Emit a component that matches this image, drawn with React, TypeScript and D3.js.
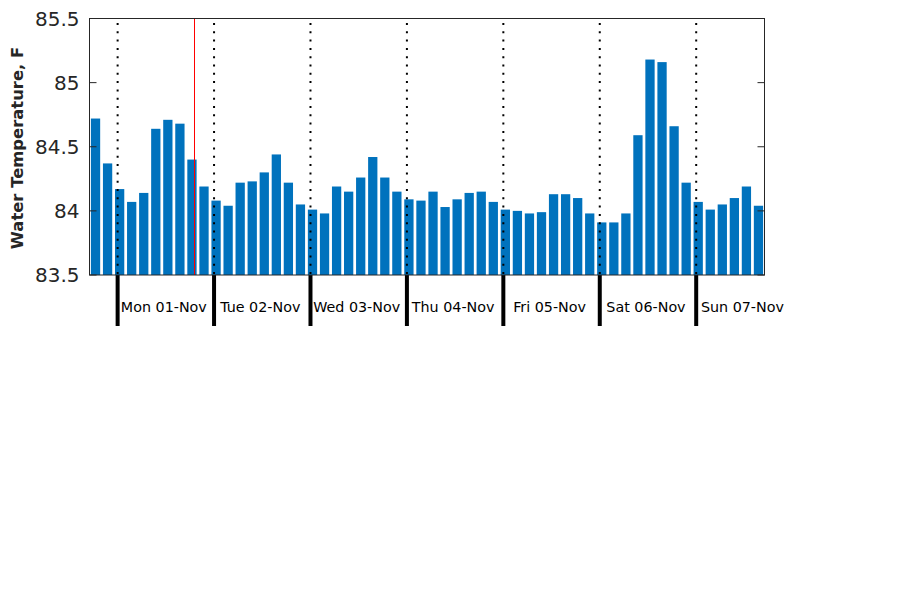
import { useEffect, useRef } from "react";
import * as d3 from "d3";

// 3-hourly water temperature readings (F), first reading Sun 31-Oct 18:30
const temps = [
  84.72, 84.37, 84.17, 84.07, 84.14, 84.64, 84.71, 84.68,
  84.40, 84.19, 84.08, 84.04, 84.22, 84.23, 84.30, 84.44,
  84.22, 84.05, 84.01, 83.98, 84.19, 84.15, 84.26, 84.42,
  84.26, 84.15, 84.09, 84.08, 84.15, 84.03, 84.09, 84.14,
  84.15, 84.07, 84.01, 84.00, 83.98, 83.99, 84.13, 84.13,
  84.10, 83.98, 83.91, 83.91, 83.98, 84.59, 85.18, 85.16,
  84.66, 84.22, 84.07, 84.01, 84.05, 84.10, 84.19, 84.04,
];
const firstReading = new Date(2021, 9, 31, 18, 30);
const stepHours = 3;
const dayLabels = ["Mon 01-Nov", "Tue 02-Nov", "Wed 03-Nov", "Thu 04-Nov", "Fri 05-Nov", "Sat 06-Nov", "Sun 07-Nov"];
const dayStarts = dayLabels.map((_, i) => new Date(2021, 10, 1 + i));
const yTicks = [83.5, 84, 84.5, 85, 85.5];
const nowMarker = new Date(2021, 10, 1, 19, 8);

export default function App() {
  const svgRef = useRef<SVGSVGElement | null>(null);

  useEffect(() => {
    if (!svgRef.current) return;
    const width = 900;
    const height = 600;
    const left = 89.5, right = 764.5, top = 18.5, bottom = 275;
    const axisColor = "#262626";

    const svg = d3.select(svgRef.current);
    svg.selectAll("*").remove();
    svg.attr("width", width).attr("height", height);

    const times = temps.map((_, i) => d3.timeMinute.offset(firstReading, i * stepHours * 60));
    const halfStep = (stepHours * 60) / 2;
    const x = d3.scaleTime()
      .domain([d3.timeMinute.offset(times[0], -halfStep), d3.timeMinute.offset(times[times.length - 1], halfStep)])
      .range([left, right]);
    const y = d3.scaleLinear().domain([83.5, 85.5]).range([bottom, top]);

    const step = x(times[1]) - x(times[0]);
    const bw = step * 0.77;

    svg.append("g")
      .selectAll("rect")
      .data(temps)
      .join("rect")
      .attr("x", (_, i) => x(times[i]) - bw / 2)
      .attr("width", bw)
      .attr("y", d => y(d))
      .attr("height", d => bottom - y(d))
      .attr("fill", "#0072BD");

    // dotted day separators inside the plot
    svg.append("g")
      .selectAll("line")
      .data(dayStarts)
      .join("line")
      .attr("x1", d => x(d)).attr("x2", d => x(d))
      .attr("y1", top + 4.5).attr("y2", bottom)
      .attr("stroke", "#000")
      .attr("stroke-width", 2)
      .attr("stroke-dasharray", "2,6.3");

    // thick separators below the axis
    svg.append("g")
      .selectAll("line")
      .data(dayStarts)
      .join("line")
      .attr("x1", d => x(d)).attr("x2", d => x(d))
      .attr("y1", bottom).attr("y2", 326)
      .attr("stroke", "#000")
      .attr("stroke-width", 4);

    svg.append("line")
      .attr("x1", x(nowMarker)).attr("x2", x(nowMarker))
      .attr("y1", top).attr("y2", bottom)
      .attr("stroke", "#ff0000")
      .attr("stroke-width", 1);

    // box
    svg.append("rect")
      .attr("x", left).attr("y", top)
      .attr("width", right - left).attr("height", bottom - top)
      .attr("fill", "none")
      .attr("stroke", axisColor)
      .attr("stroke-width", 1);

    const tickG = svg.append("g");
    yTicks.forEach(t => {
      tickG.append("line")
        .attr("x1", left).attr("x2", left + 7)
        .attr("y1", y(t)).attr("y2", y(t))
        .attr("stroke", axisColor);
      tickG.append("line")
        .attr("x1", right - 7).attr("x2", right)
        .attr("y1", y(t)).attr("y2", y(t))
        .attr("stroke", axisColor);
      tickG.append("text")
        .attr("x", left - 10)
        .attr("y", y(t))
        .attr("text-anchor", "end")
        .attr("dominant-baseline", "central")
        .attr("font-family", "DejaVu Sans")
        .attr("font-size", 20)
        .attr("fill", axisColor)
        .text(String(t));
    });

    svg.append("g")
      .selectAll("text")
      .data(dayStarts)
      .join("text")
      .attr("x", d => x(d3.timeHour.offset(d, 12)) - 2)
      .attr("y", 312)
      .attr("text-anchor", "middle")
      .attr("font-family", "DejaVu Sans")
      .attr("font-size", 14.3)
      .attr("fill", "#000")
      .text((_, i) => dayLabels[i]);

    svg.append("text")
      .attr("transform", "rotate(-90)")
      .attr("x", -148)
      .attr("y", 23)
      .attr("text-anchor", "middle")
      .attr("font-family", "DejaVu Sans")
      .attr("font-weight", 700)
      .attr("font-size", 16.4)
      .attr("fill", axisColor)
      .text("Water Temperature, F");
  }, []);

  return <svg ref={svgRef} style={{ position: "absolute", left: 0, top: 0 }} />;
}
